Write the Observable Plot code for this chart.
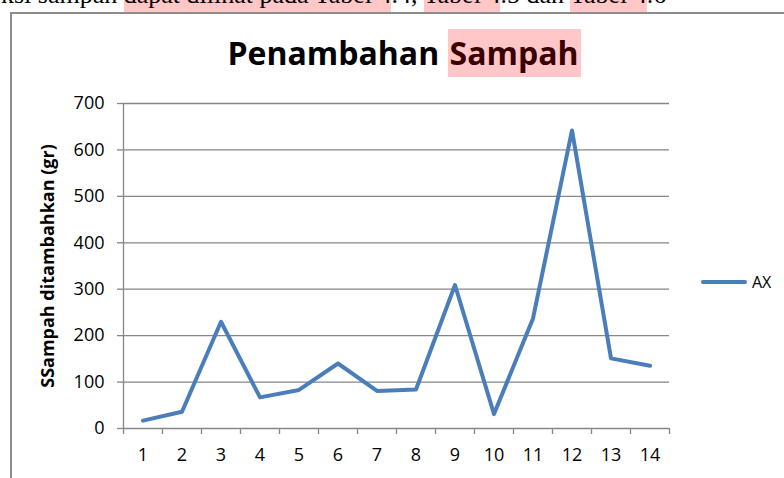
<!DOCTYPE html>
<html>
<head>
<meta charset="utf-8">
<script src="https://cdn.jsdelivr.net/npm/d3@7"></script>
<script src="https://cdn.jsdelivr.net/npm/@observablehq/plot@0.6"></script>
<style>
  html, body { margin: 0; padding: 0; background: #fff; width: 784px; height: 478px; overflow: hidden; }
  #wrap { position: relative; width: 784px; height: 478px; overflow: hidden; }
  #doc { position: absolute; left: 1px; top: -20px; white-space: nowrap; font-family: "Liberation Serif", "Times New Roman", serif; font-size: 26px; line-height: 30px; color: #000; }
  #doc .hl { background: #ffc7c7; padding-bottom: 3px; }
  #frame { position: absolute; left: 10px; top: 12px; width: 900px; height: 600px; border: 2px solid #8c8c8c; box-sizing: border-box; }
  #chart { position: absolute; left: 0; top: 0; }
  #title { position: absolute; left: 12px; width: 784px; top: 29px; text-align: center; font-family: "Open Sans", sans-serif; font-weight: bold; font-size: 32px; line-height: 48px; color: #000; white-space: nowrap; }
  #title .hl { display: inline-block; background: #ffc7c7; color: #3a0000; padding: 0 2px; line-height: 48px; }
  #legend { position: absolute; left: 701px; top: 271px; font-family: "Open Sans", sans-serif; font-size: 16px; line-height: 22px; display: flex; align-items: center; }
  #legend .sw { width: 46px; height: 4px; background: #4a7ebb; border-radius: 2px; margin-right: 5px; }
</style>
</head>
<body>
<div id="wrap">
  <div id="doc">ksi sampah <span class="hl">dapat dilihat pada Tabel 4</span>.4, <span class="hl">Tabel 4</span>.5 dan <span class="hl">Tabel 4</span>.6</div>
  <div id="frame"></div>
  <div id="chart"></div>
  <div id="title">Penambahan <span class="hl">Sampah</span></div>
  <div id="legend"><div class="sw"></div><span>AX</span></div>
</div>
<script>
const days = [1, 2, 3, 4, 5, 6, 7, 8, 9, 10, 11, 12, 13, 14];
const sampah = [17, 36, 230, 67, 83, 140, 81, 84, 309, 31, 237, 642, 151, 135];
const yTicks = [0, 100, 200, 300, 400, 500, 600, 700];
const xBounds = [0.5, 1.5, 2.5, 3.5, 4.5, 5.5, 6.5, 7.5, 8.5, 9.5, 10.5, 11.5, 12.5, 13.5, 14.5];
const seriesName = "AX";
const yLabel = "SSampah ditambahkan (gr)";

const data = days.map((d, i) => ({day: d, value: sampah[i], series: seriesName}));
const axisColor = "#868686";

const chart = Plot.plot({
  width: 784,
  height: 478,
  marginLeft: 123,
  marginRight: 115,
  marginTop: 103,
  marginBottom: 50,
  style: {fontFamily: "'Open Sans', sans-serif", fontSize: "18px", background: "transparent", color: "#000"},
  x: {domain: [0.5, 14.5]},
  y: {domain: [0, 700]},
  marks: [
    Plot.gridY(yTicks.slice(1), {stroke: axisColor, strokeOpacity: 1, strokeWidth: 1.3}),
    Plot.axisY({ticks: yTicks, tickSize: 6, tickPadding: 13, stroke: axisColor, fill: "#000", label: null, fontSize: 18, strokeWidth: 1.3}),
    Plot.axisX({ticks: days, tickSize: 0, tickPadding: 20, fill: "#000", label: null, fontSize: 18}),
    Plot.axisX({ticks: xBounds, tickSize: 6, tickFormat: () => "", stroke: axisColor, label: null, strokeWidth: 1.3}),
    Plot.ruleX([0.5], {stroke: axisColor, strokeWidth: 1.3}),
    Plot.ruleY([0], {stroke: axisColor, strokeWidth: 1.3}),
    Plot.lineY(data, {x: "day", y: "value", stroke: "#4a7ebb", strokeWidth: 4, strokeLinejoin: "round", strokeLinecap: "round"}),
    Plot.text([yLabel], {frameAnchor: "left", textAnchor: "middle", dx: -75, rotate: -90, fontWeight: "bold", fontSize: 18, fill: "#000"})
  ]
});
document.getElementById("chart").appendChild(chart);
</script>
</body>
</html>
